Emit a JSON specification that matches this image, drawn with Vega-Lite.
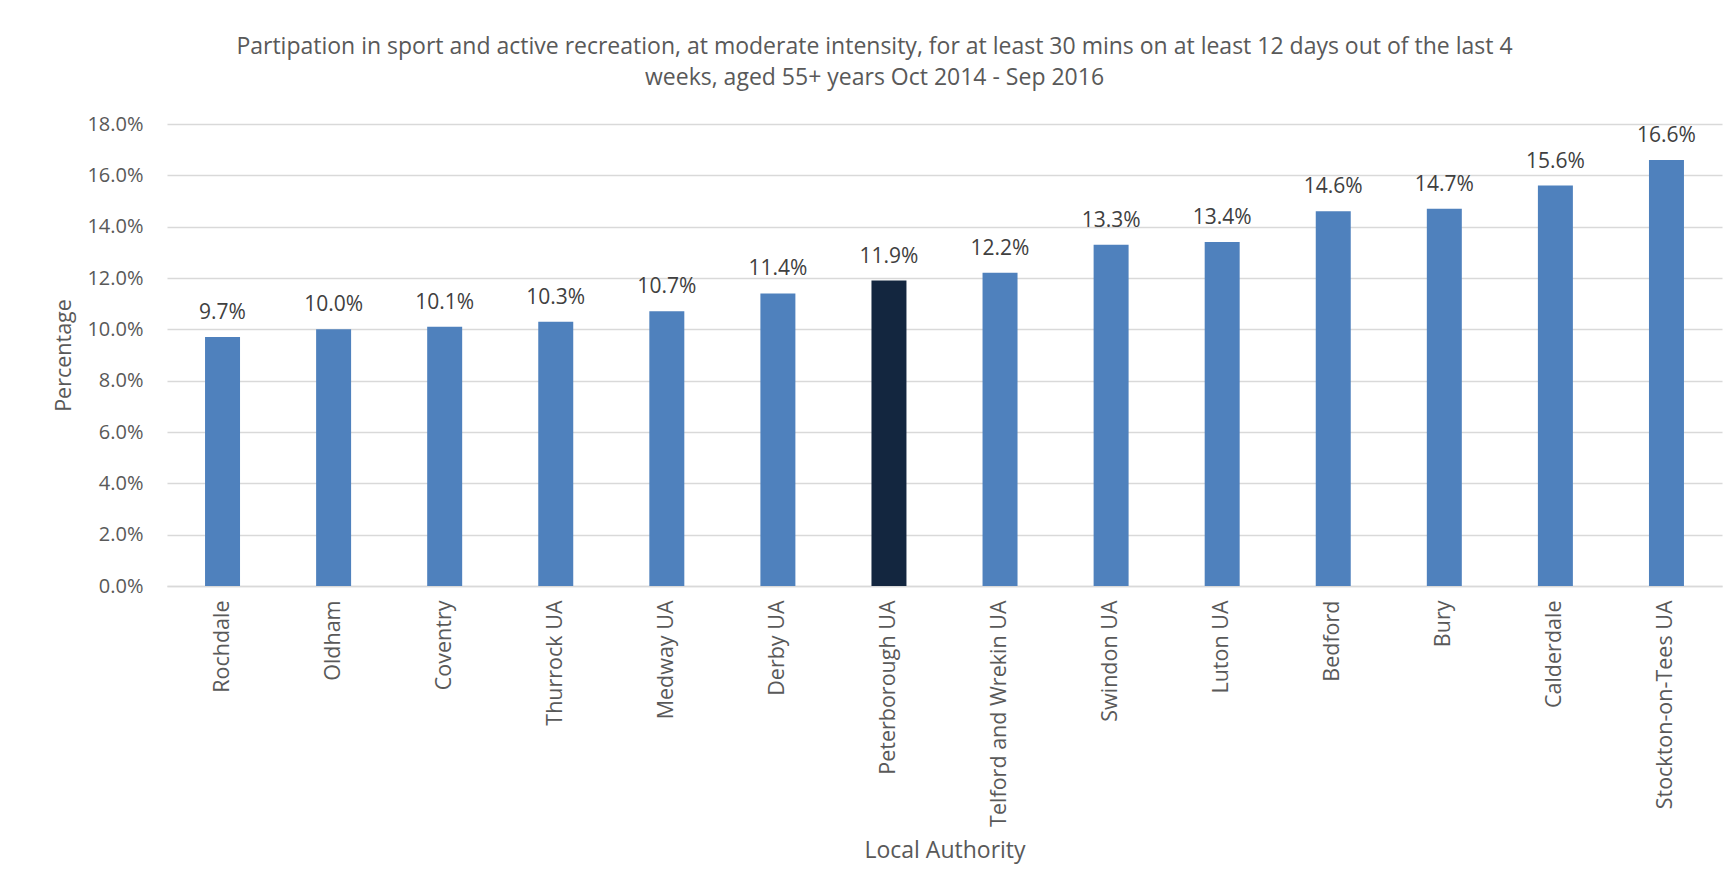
{
  "$schema": "https://vega.github.io/schema/vega-lite/v6.json",
  "width": 1555,
  "height": 462,
  "autosize": {"type": "none"},
  "padding": {"left": 167, "top": 124, "right": 13, "bottom": 310},
  "background": "white",
  "title": {
    "text": [
      "Partipation in sport and active recreation, at moderate intensity, for at least 30 mins on at least 12 days out of the last 4",
      "weeks, aged 55+ years Oct 2014 - Sep 2016"
    ],
    "font": "Open Sans",
    "fontSize": 23,
    "fontWeight": "normal",
    "color": "#595959",
    "lineHeight": 31,
    "anchor": "middle",
    "dx": -70,
    "offset": 24
  },
  "data": {
    "values": [
      {"area": "Rochdale", "pct": 0.097},
      {"area": "Oldham", "pct": 0.100},
      {"area": "Coventry", "pct": 0.101},
      {"area": "Thurrock UA", "pct": 0.103},
      {"area": "Medway UA", "pct": 0.107},
      {"area": "Derby UA", "pct": 0.114},
      {"area": "Peterborough UA", "pct": 0.119},
      {"area": "Telford and Wrekin UA", "pct": 0.122},
      {"area": "Swindon UA", "pct": 0.133},
      {"area": "Luton UA", "pct": 0.134},
      {"area": "Bedford", "pct": 0.146},
      {"area": "Bury", "pct": 0.147},
      {"area": "Calderdale", "pct": 0.156},
      {"area": "Stockton-on-Tees UA", "pct": 0.166}
    ]
  },
  "encoding": {
    "x": {
      "field": "area",
      "type": "nominal",
      "sort": null,
      "scale": {"paddingInner": 0.685, "paddingOuter": 0.3425},
      "axis": {
        "title": "Local Authority",
        "labelAngle": -90,
        "labelPadding": 14,
        "labelLimit": 400,
        "labelFontSize": 21.5,
        "ticks": false,
        "grid": false,
        "domain": true,
        "domainColor": "#d9d9d9",
        "domainWidth": 1.5,
        "titleFontSize": 23,
        "titleY": 264,
        "titleBaseline": "middle"
      }
    },
    "y": {
      "field": "pct",
      "type": "quantitative",
      "scale": {"domain": [0, 0.18], "nice": false},
      "axis": {
        "title": "Percentage",
        "format": ".1%",
        "values": [0, 0.02, 0.04, 0.06, 0.08, 0.1, 0.12, 0.14, 0.16, 0.18],
        "ticks": false,
        "domain": false,
        "grid": true,
        "gridColor": "#d9d9d9",
        "gridWidth": 1.3,
        "labelPadding": 24,
        "titleFontSize": 21.5,
        "titlePadding": 11
      }
    }
  },
  "layer": [
    {
      "mark": {"type": "bar"},
      "encoding": {
        "color": {
          "condition": {"test": "datum.area === 'Peterborough UA'", "value": "#13263f"},
          "value": "#4f81bd"
        }
      }
    },
    {
      "mark": {
        "type": "text",
        "baseline": "alphabetic",
        "dy": -18,
        "font": "Open Sans",
        "fontSize": 21,
        "color": "#404040"
      },
      "encoding": {
        "text": {"field": "pct", "type": "quantitative", "format": ".1%"}
      }
    }
  ],
  "config": {
    "view": {"stroke": null},
    "axis": {
      "labelFont": "Open Sans",
      "labelFontSize": 20,
      "labelColor": "#595959",
      "titleFont": "Open Sans",
      "titleFontSize": 20,
      "titleFontWeight": "normal",
      "titleColor": "#595959"
    }
  }
}
